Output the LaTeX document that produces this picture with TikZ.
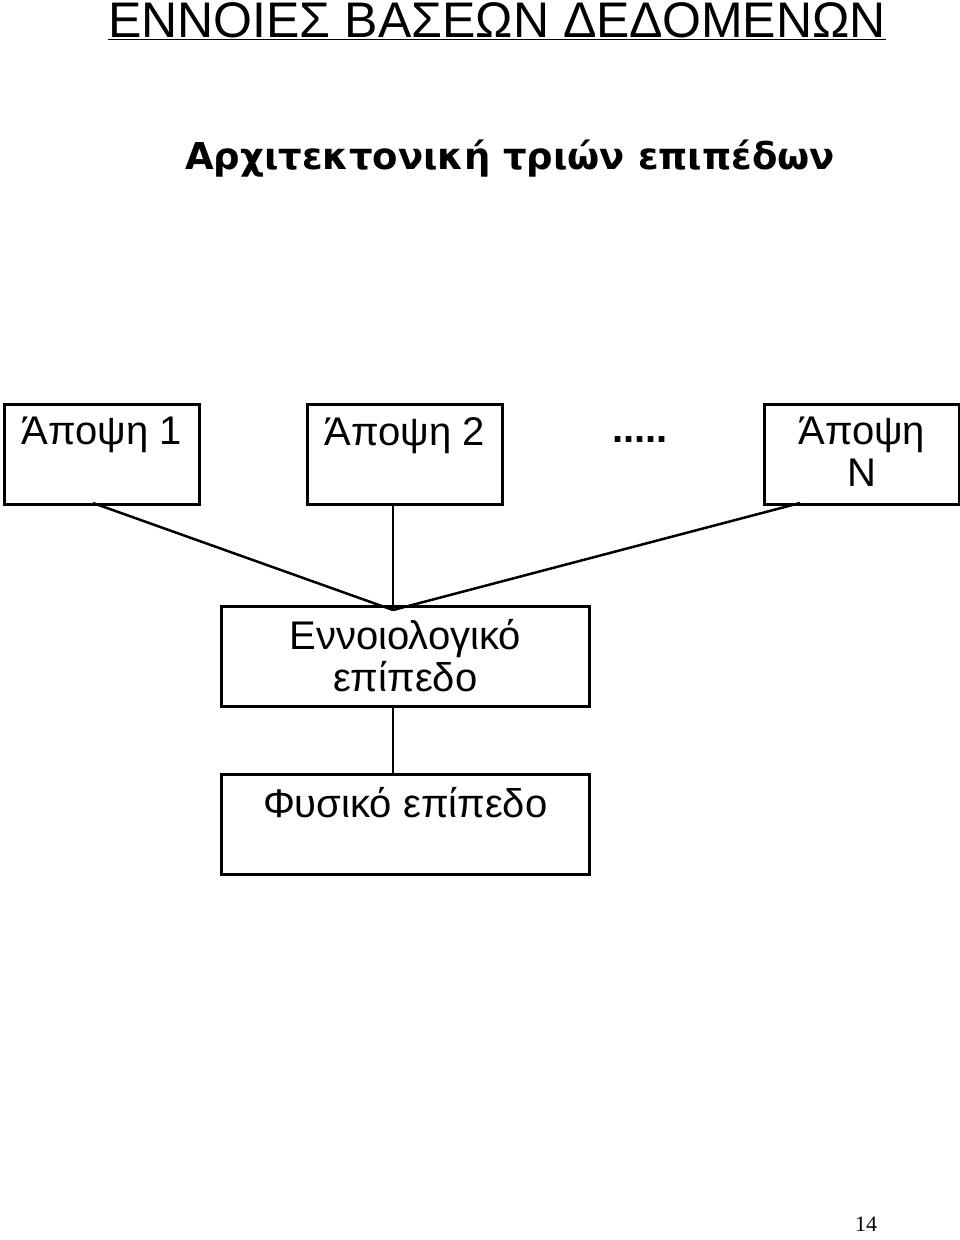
\documentclass[tikz,border=0pt]{standalone}
\usepackage{fontspec}
\setmainfont{Liberation Sans}
\newfontfamily\titlefont{DejaVu Sans}
\newfontfamily\pagefont{Liberation Serif}
\begin{document}
\begin{tikzpicture}[x=1pt,y=-1pt,
  box/.style={draw,line width=2.5pt,minimum width=195pt,minimum height=100pt,anchor=north west,inner sep=0pt},
  lbl/.style={font=\fontsize{40}{42}\selectfont,align=center,anchor=north,inner sep=0pt},
  conn/.style={line width=2.5pt}]
\useasboundingbox (0,0) rectangle (960,1240);
\node[anchor=north west,inner sep=0pt,font=\fontsize{50}{54}\selectfont] (t1) at (108,2) {\underline{ΕΝΝΟΙΕΣ ΒΑΣΕΩΝ ΔΕΔΟΜΕΝΩΝ}};
\node[anchor=north west,inner sep=0pt,font=\titlefont\bfseries\fontsize{37}{40}\selectfont] (t2) at (185,140) {Αρχιτεκτονική τριών επιπέδων};
\node[box] (v1) at (3,403) {};
\node[box] (v2) at (306,403) {};
\node[box] (vn) at (763,403) {};
\node[lbl] (l1) at ([yshift=-14pt]v1.north) {Άποψη 1};
\node[lbl] (l2) at ([yshift=-14pt]v2.north) {Άποψη 2};
\node[lbl] (ln) at ([yshift=-14pt]vn.north) {Άποψη\\Ν};
\node[font=\bfseries\fontsize{40}{42}\selectfont] (dots) at (640,440) {.....};
\node[box,minimum width=368pt] (c) at (220,605) {};
\node[lbl] (lc) at ([yshift=-14pt]c.north) {Εννοιολογικό\\επίπεδο};
\node[box,minimum width=368pt] (p) at (220,773) {};
\node[lbl] (lp) at ([yshift=-14pt]p.north) {Φυσικό επίπεδο};
\coordinate (a1) at (93,503);
\coordinate (an) at (800,503);
\coordinate (m) at (393,610);
\coordinate (a2) at (393,503);
\draw[conn] (a1) -- (m);
\draw[conn] (a2) -- (m);
\draw[conn] (an) -- (m);
\coordinate (b1) at (393,705);
\coordinate (b2) at (393,773);
\draw[conn] (b1) -- (b2);
\node[anchor=north west,inner sep=0pt,font=\pagefont\fontsize{22}{24}\selectfont] (pg) at (855,1217) {14};
\end{tikzpicture}
\end{document}
